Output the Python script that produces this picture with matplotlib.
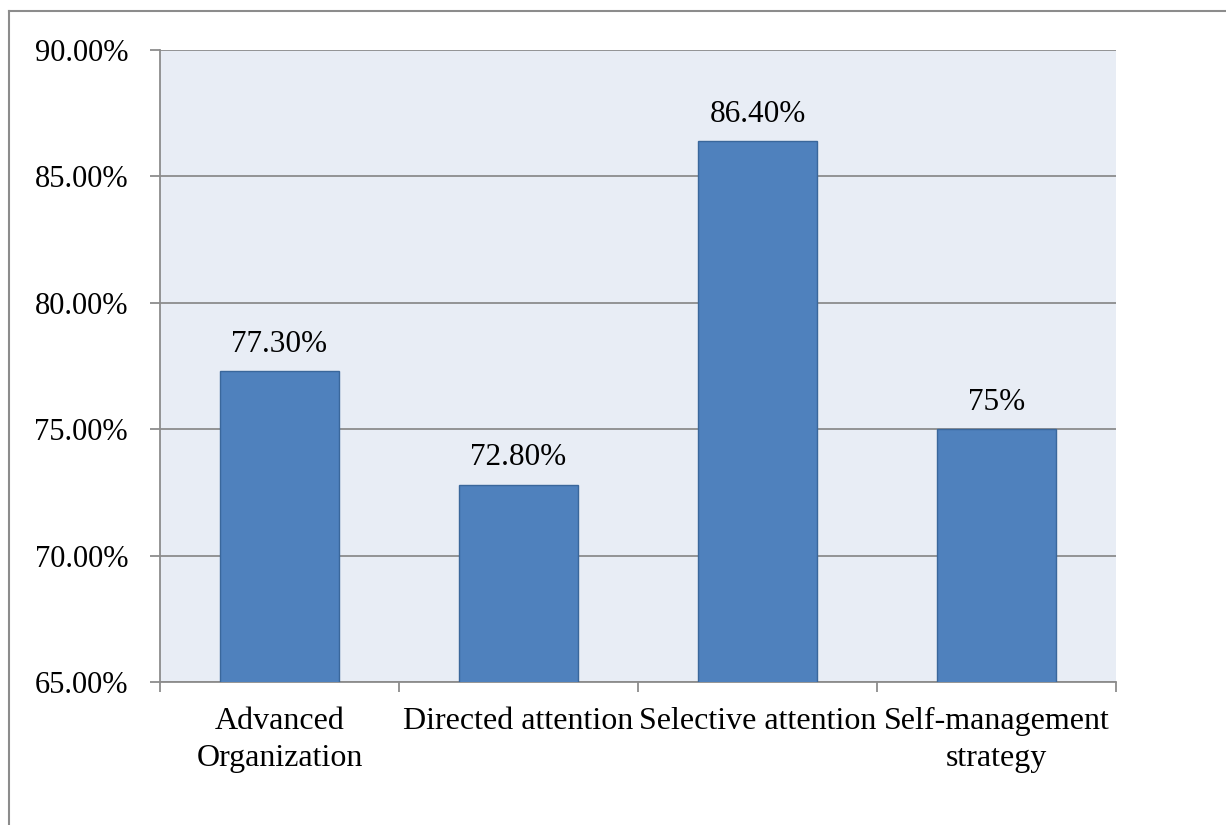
import matplotlib.pyplot as plt
from matplotlib.lines import Line2D
from matplotlib.ticker import FixedLocator, FuncFormatter

categories = ["Advanced\nOrganization", "Directed attention",
              "Selective attention", "Self-management\nstrategy"]
values = [77.3, 72.8, 86.4, 75.0]
value_labels = ["77.30%", "72.80%", "86.40%", "75%"]
y_ticks = [65, 70, 75, 80, 85, 90]

plt.rcParams['font.family'] = ['Liberation Serif', 'DejaVu Serif']
FS = 22.5

fig = plt.figure(figsize=(12.26, 8.25), dpi=100)
ax = fig.add_axes([0.1305, 0.1733, 0.7798, 0.7661])
ax.set_facecolor('#E8EDF5')

x = list(range(len(categories)))
bars = ax.bar(x, values, width=0.5, color='#4F81BD', edgecolor='#3A679B',
              linewidth=1.0, zorder=3)

for rect, lab in zip(bars, value_labels):
    ax.annotate(lab, (rect.get_x() + rect.get_width() / 2, rect.get_height()),
                xytext=(0, 9), textcoords='offset points',
                ha='center', va='bottom', fontsize=FS, zorder=4)

ax.set_xlim(-0.5, len(categories) - 0.5)
ax.set_ylim(65, 90)
ax.set_yticks(y_ticks)
ax.yaxis.set_major_formatter(FuncFormatter(lambda v, p: f"{v:.2f}%"))
ax.yaxis.grid(True, color='#8C8C8C', linewidth=1.3, zorder=1)
ax.set_axisbelow(True)

# category labels at centres, tick marks at the boundaries
ax.set_xticks(x)
ax.set_xticklabels(categories, fontsize=23, linespacing=1.38)
ax.xaxis.set_minor_locator(FixedLocator([i - 0.5 for i in range(len(categories) + 1)]))
ax.tick_params(axis='x', which='major', length=0, pad=18)
ax.tick_params(axis='x', which='minor', length=7, width=1.3, color='#8C8C8C')
ax.tick_params(axis='y', length=7, width=1.3, color='#8C8C8C', labelsize=22, pad=16)

for side in ('top', 'right'):
    ax.spines[side].set_visible(False)
for side in ('left', 'bottom'):
    ax.spines[side].set_color('#8C8C8C')
    ax.spines[side].set_linewidth(1.3)

# outer chart frame (top and left edges)
fig.add_artist(Line2D([8.5 / 1226, 1.0], [1 - 10.5 / 825, 1 - 10.5 / 825],
                      transform=fig.transFigure, color='#8C8C8C', linewidth=1.5))
fig.add_artist(Line2D([8.5 / 1226, 8.5 / 1226], [0.0, 1 - 10.5 / 825],
                      transform=fig.transFigure, color='#8C8C8C', linewidth=1.5))

fig.savefig('out.png', dpi=100)
